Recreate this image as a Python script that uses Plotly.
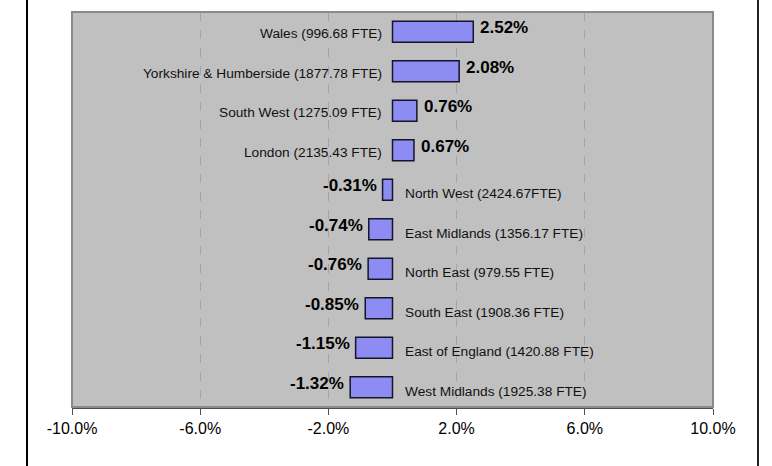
import plotly.graph_objects as go

regions = ["Wales (996.68 FTE)", "Yorkshire & Humberside (1877.78 FTE)", "South West (1275.09 FTE)",
           "London (2135.43 FTE)", "North West (2424.67FTE)", "East Midlands (1356.17 FTE)",
           "North East (979.55 FTE)", "South East (1908.36 FTE)", "East of England (1420.88 FTE)",
           "West Midlands (1925.38 FTE)"]
changes = [2.52, 2.08, 0.76, 0.67, -0.31, -0.74, -0.76, -0.85, -1.15, -1.32]
tick_vals = [-10, -6, -2, 2, 6, 10]
tick_text = ["-10.0%", "-6.0%", "-2.0%", "2.0%", "6.0%", "10.0%"]

fig = go.Figure()
fig.add_trace(go.Bar(
    x=changes, y=regions, orientation="h",
    marker=dict(color="#8c8cf2", line=dict(color="#15152a", width=1.5)),
    width=0.53, hoverinfo="skip",
))

ann = []
for r, v in zip(regions, changes):
    pos = v >= 0
    # region name on the opposite side of zero
    ann.append(dict(x=0, y=r, xref="x", yref="y", text=r, showarrow=False,
                    xanchor="right" if pos else "left", xshift=-9 if pos else 10, yshift=-2 if pos else -4,
                    font=dict(family="Liberation Sans, Arial", size=13.7, color="#111111")))
    # value label at bar end
    ann.append(dict(x=v, y=r, xref="x", yref="y", text=f"<b>{v:.2f}%</b>", showarrow=False,
                    xanchor="left" if pos else "right", xshift=5 if pos else -4, yshift=4,
                    font=dict(family="Liberation Sans, Arial", size=17, color="#000000")))

shapes = [
    dict(type="line", xref="paper", yref="paper", x0=-0.0702, x1=-0.0702, y0=-0.16, y1=1.05,
         line=dict(color="#000000", width=2)),
    dict(type="line", xref="paper", yref="paper", x0=1.0702, x1=1.0702, y0=-0.16, y1=1.05,
         line=dict(color="#222222", width=2)),
]

fig.update_layout(
    width=772, height=466,
    margin=dict(l=72, r=59, t=12, b=59),
    paper_bgcolor="#ffffff", plot_bgcolor="#c0c0c0",
    showlegend=False,
    annotations=ann, shapes=shapes,
    xaxis=dict(range=[-10, 10], tickvals=tick_vals, ticktext=tick_text,
               showgrid=True, gridcolor="#a4a4a4", griddash="dash", gridwidth=1,
               zeroline=False, showline=True, linecolor="#505050", linewidth=2,
               ticks="outside", ticklen=6, tickcolor="#505050", mirror=False,
               tickfont=dict(family="Liberation Sans, Arial", size=16, color="#000000"), fixedrange=True),
    yaxis=dict(autorange="reversed", showticklabels=False, showgrid=False, zeroline=False,
               showline=False, fixedrange=True),
)
# gray plot frame (top, left, right)
fig.add_shape(type="rect", xref="paper", yref="paper", x0=0, x1=1, y0=0, y1=1,
              line=dict(color="#8a8a8a", width=2), layer="above")

fig.write_html("out.html", config={"displayModeBar": False},
               post_script="document.body.style.margin='0';document.body.style.overflow='hidden';")
